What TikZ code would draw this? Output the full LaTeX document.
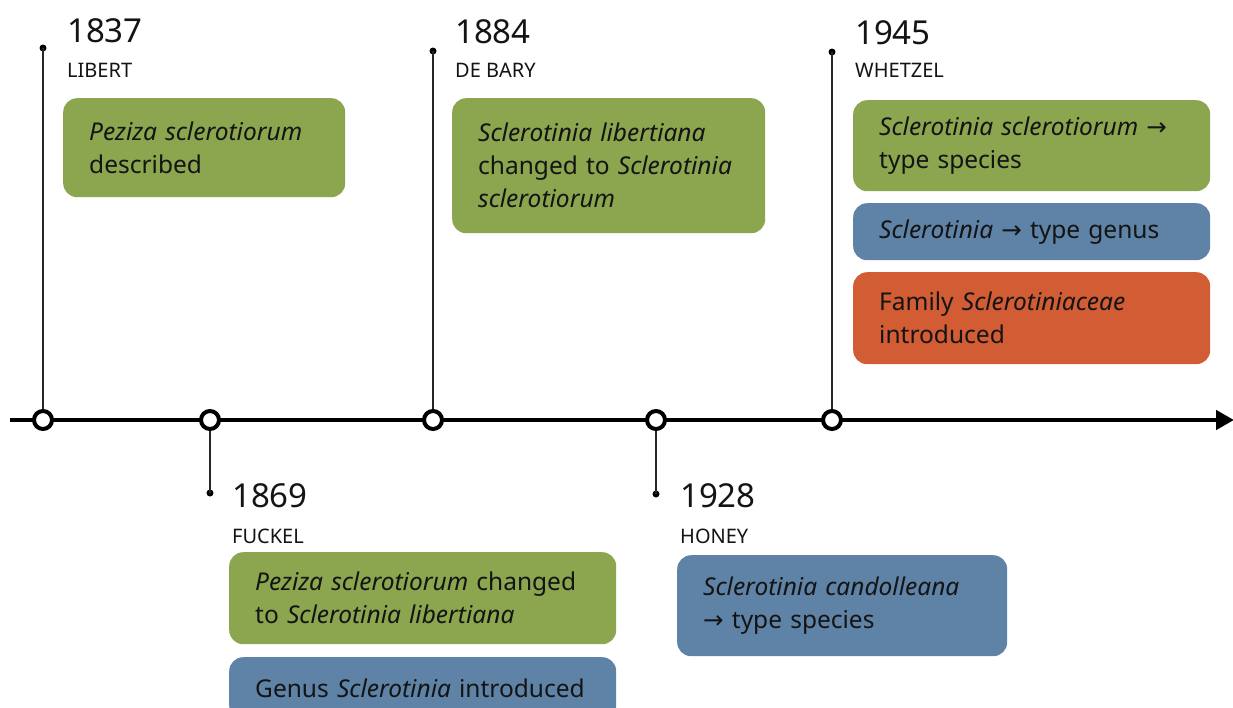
\documentclass[tikz,border=0pt]{standalone}
\usepackage{fontspec}
\setmainfont{Noto Sans}
\newfontfamily\arrowfont{DejaVu Sans}
\newcommand{\rarr}{{\arrowfont →}}
\usetikzlibrary{arrows.meta}
\definecolor{cgreen}{RGB}{139,166,78}
\definecolor{cblue}{RGB}{94,131,166}
\definecolor{corange}{RGB}{210,92,52}
\definecolor{ctext}{RGB}{20,20,20}
\tikzset{
  evbox/.style={rounded corners=14pt, inner xsep=26pt, inner ysep=0pt, anchor=north west, align=left,
    text=ctext, font=\fontsize{24.5}{33}\selectfont},
  yearlbl/.style={anchor=base west, inner sep=0pt, text=ctext, font=\fontsize{33}{36}\selectfont},
  namelbl/.style={anchor=base west, inner sep=0pt, text=ctext, font=\fontsize{20}{24}\selectfont},
  tick/.style={circle, draw=black, line width=4pt, fill=white, minimum size=18pt, inner sep=0pt},
  enddot/.style={circle, fill=black, minimum size=7pt, inner sep=0pt},
  stem/.style={draw=black!85, line width=1.6pt},
}
\begin{document}
\begin{tikzpicture}[x=1pt,y=-1pt]
\useasboundingbox (0,0) rectangle (1233,707);
\fill[white] (0,0) rectangle (1233,707);
% axis
\coordinate (axs) at (10,420);
\coordinate (axe) at (1234,420);
\draw[line width=4.5pt, -{Triangle[length=18pt,width=19pt]}] (axs) -- (axe);
% end dots
\node[enddot] (d1) at (43,48) {};
\node[enddot] (d2) at (210,493) {};
\node[enddot] (d3) at (433,51) {};
\node[enddot] (d4) at (656,494) {};
\node[enddot] (d5) at (832,52) {};
% ticks positions
\coordinate (p1) at (43,420);
\coordinate (p2) at (210,420);
\coordinate (p3) at (433,420);
\coordinate (p4) at (656,420);
\coordinate (p5) at (832,420);
\draw[stem] (p1) -- (d1.center);
\draw[stem] (p2) -- (d2.center);
\draw[stem] (p3) -- (d3.center);
\draw[stem] (p4) -- (d4.center);
\draw[stem] (p5) -- (d5.center);
\node[tick] (c1) at (p1) {};
\node[tick] (c2) at (p2) {};
\node[tick] (c3) at (p3) {};
\node[tick] (c4) at (p4) {};
\node[tick] (c5) at (p5) {};
% labels
\node[yearlbl] (y1) at (67,42) {1837};
\node[namelbl] (n1) at (67,77) {LIBERT};
\node[yearlbl] (y3) at (455,43) {1884};
\node[namelbl] (n3) at (455,77) {DE BARY};
\node[yearlbl] (y5) at (855,44) {1945};
\node[namelbl] (n5) at (855,77) {WHETZEL};
\node[yearlbl] (y2) at (232,507) {1869};
\node[namelbl] (n2) at (232,543) {FUCKEL};
\node[yearlbl] (y4) at (680,507) {1928};
\node[namelbl] (n4) at (680,543) {HONEY};
% boxes
\node[evbox, fill=cgreen, minimum width=282pt, minimum height=99pt, text width=230pt] (b1) at (63,98)
  {\textit{Peziza sclerotiorum}\\described};
\node[evbox, fill=cgreen, minimum width=313pt, minimum height=135pt, text width=261pt] (b3) at (452,98)
  {\textit{Sclerotinia libertiana}\\changed to \textit{Sclerotinia}\\\textit{sclerotiorum}};
\node[evbox, fill=cgreen, minimum width=357pt, minimum height=91pt, text width=305pt] (b5a) at (853,100)
  {\textit{Sclerotinia sclerotiorum} \rarr\\type species};
\node[evbox, fill=cblue, minimum width=357pt, minimum height=57pt, text width=305pt] (b5b) at (853,203)
  {\textit{Sclerotinia} \rarr{} type genus};
\node[evbox, fill=corange, minimum width=357pt, minimum height=92pt, text width=305pt] (b5c) at (853,272)
  {Family \textit{Sclerotiniaceae}\\introduced};
\node[evbox, fill=cgreen, minimum width=387pt, minimum height=92pt, text width=335pt] (b2a) at (229,552)
  {\textit{Peziza sclerotiorum} changed\\to \textit{Sclerotinia libertiana}};
\node[evbox, fill=cblue, minimum width=387pt, minimum height=62pt, text width=335pt] (b2b) at (229,657)
  {Genus \textit{Sclerotinia} introduced};
\node[evbox, fill=cblue, minimum width=330pt, minimum height=101pt, text width=278pt] (b4) at (677,555)
  {\textit{Sclerotinia candolleana}\\\rarr{} type species};
\end{tikzpicture}
\end{document}
